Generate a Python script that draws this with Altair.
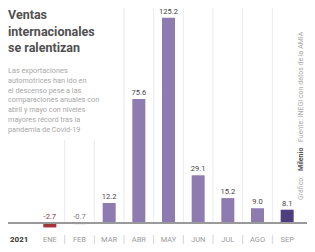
import altair as alt
import pandas as pd

months = ["ENE", "FEB", "MAR", "ABR", "MAY", "JUN", "JUL", "AGO", "SEP"]
values = [-2.7, -0.7, 12.2, 75.6, 125.2, 29.1, 15.2, 9.0, 8.1]
labels = ["-2.7", "-0.7", "12.2", "75.6", "125.2", "29.1", "15.2", "9.0", "8.1"]
colors = ["#a3343a", "#b89aa0", "#8e7bb0", "#8e7bb0", "#8e7bb0", "#8e7bb0", "#8e7bb0", "#8e7bb0", "#4d3f7d"]
label_colors = ["#8a3035", "#8a7a7c", "#444", "#444", "#444", "#444", "#444", "#444", "#444"]
year_label = "2021"

title_lines = ["Ventas", "internacionales", "se ralentizan"]
subtitle_lines = [
    "Las exportaciones",
    "automotrices han ido en",
    "el descenso pese a las",
    "comparaciones anuales con",
    "abril y mayo con niveles",
    "mayores récord tras la",
    "pandemia de Covid-19",
]
source_light = "Fuente: INEGI con datos de la AMIA"
source_bold = "Milenio"
source_pre = "Gráfico:"

W, H = 299, 236

df = pd.DataFrame({"m": months, "v": values, "lab": labels, "c": colors, "lc": label_colors})
df["i"] = range(len(months))
grid_df = pd.DataFrame({"m": months, "i": range(len(months))})

xs = alt.Scale(domain=months, range=[27, 294], paddingInner=0, paddingOuter=0)
# baseline (0) at y=215, ~1.64 px per unit
ys = alt.Scale(domain=[-12.8, 131.1], nice=False, zero=False)

X = alt.X("m:N", scale=xs, axis=None, sort=months)
XB = alt.X("m:N", scale=xs, axis=None, sort=months, bandPosition=0)

grid_hi = alt.Chart(grid_df).transform_filter("datum.i >= 3").mark_rule(
    color="#ebebeb", strokeWidth=1
).encode(x=XB, y=alt.value(0), y2=alt.value(215))
grid_lo = alt.Chart(grid_df).transform_filter("datum.i >= 1 && datum.i < 3").mark_rule(
    color="#ebebeb", strokeWidth=1
).encode(x=XB, y=alt.value(132), y2=alt.value(215))
seps = alt.Chart(grid_df).transform_filter("datum.i >= 1").mark_rule(
    color="#d4d4d4", strokeWidth=1
).encode(x=XB, y=alt.value(227), y2=alt.value(236))

bars = alt.Chart(df).transform_calculate(z="0").mark_bar(size=13).encode(
    x=X,
    y=alt.Y("v:Q", scale=ys, axis=None),
    y2="z:Q",
    color=alt.Color("c:N", scale=None),
)

vlabels = alt.Chart(df).transform_calculate(ly="max(datum.v, 0)").mark_text(
    fontSize=7.5, font="Roboto", dy=-2, baseline="bottom"
).encode(
    x=X,
    y=alt.Y("ly:Q", scale=ys, axis=None),
    text="lab:N",
    color=alt.Color("lc:N", scale=None),
)

baseline = alt.Chart(df).transform_calculate(z="0").mark_rule(color="#999", strokeWidth=1).encode(
    x=alt.value(-8), x2=alt.value(W),
    y=alt.Y("z:Q", scale=ys, axis=None),
)

mlabels = alt.Chart(df).mark_text(
    fontSize=7.5, font="Roboto", color="#9a9a9a", baseline="middle"
).encode(x=X, y=alt.value(232), text="m:N")

year = alt.Chart(pd.DataFrame({"t": [year_label]})).mark_text(
    fontSize=8, font="Roboto", fontWeight="bold", color="#333", align="left", baseline="middle"
).encode(x=alt.value(2), y=alt.value(232), text="t:N")

title = alt.Chart(pd.DataFrame({"t": ["\n".join(title_lines)]})).mark_text(
    fontSize=12.5, font="Roboto", fontWeight="bold", color="#505050", align="left",
    baseline="top", lineBreak="\n", lineHeight=16.5
).encode(x=alt.value(0), y=alt.value(1), text="t:N")

sub = alt.Chart(pd.DataFrame({"t": ["\n".join(subtitle_lines)]})).mark_text(
    fontSize=7.3, font="Roboto", color="#a8a8a8", align="left",
    baseline="top", lineBreak="\n", lineHeight=9.8
).encode(x=alt.value(0), y=alt.value(59), text="t:N")

src1 = alt.Chart(pd.DataFrame({"t": [source_pre]})).mark_text(
    fontSize=7, font="Roboto", color="#aaa", angle=270, align="left", baseline="middle"
).encode(x=alt.value(293), y=alt.value(192), text="t:N")
src2 = alt.Chart(pd.DataFrame({"t": [source_bold]})).mark_text(
    fontSize=7, font="Roboto", fontWeight="bold", color="#555", angle=270, align="left", baseline="middle"
).encode(x=alt.value(293), y=alt.value(163), text="t:N")
src3 = alt.Chart(pd.DataFrame({"t": [source_light]})).mark_text(
    fontSize=7, font="Roboto", color="#aaa", angle=270, align="left", baseline="middle"
).encode(x=alt.value(293), y=alt.value(134), text="t:N")

chart = alt.layer(
    grid_hi, grid_lo, seps, bars, baseline, vlabels, mlabels, year, title, sub, src1, src2, src3
).properties(
    width=W, height=H, padding=0, autosize=alt.AutoSizeParams(type="none"), background="white"
).configure_view(stroke=None)

chart.save("out.html", embed_options={"renderer": "svg", "actions": False})
